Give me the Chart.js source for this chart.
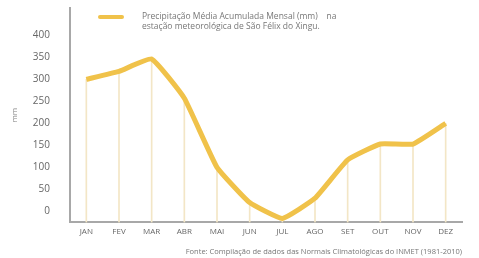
<!DOCTYPE html>
<html>
<head>
<meta charset="utf-8">
<script src="https://cdn.jsdelivr.net/npm/chart.js@4"></script>
<style>
  html, body { margin: 0; padding: 0; background: #fff; }
  #wrap { position: relative; width: 479px; height: 258px; }
  #legenda {
    position: absolute; left: 98px; top: 11px;
    font-family: "Open Sans", sans-serif; font-size: 8.5px; line-height: 10px; color: #777;
    display: flex; align-items: flex-start;
  }
  #legenda .amostra { width: 26px; height: 4px; background: #f0c24a; margin: 4px 18px 0 0; border-radius: 2px; }
</style>
</head>
<body>
<div id="wrap">
  <canvas id="precipChart" width="479" height="258"></canvas>
  <div id="legenda">
    <div class="amostra"></div>
    <div>Precipitação Média Acumulada Mensal (mm)&nbsp;&nbsp;&nbsp; na<br>estação meteorológica de São Félix do Xingu.</div>
  </div>
</div>
<script>
// Dados
const meses = ['JAN', 'FEV', 'MAR', 'ABR', 'MAI', 'JUN', 'JUL', 'AGO', 'SET', 'OUT', 'NOV', 'DEZ'];
const precipitacao = [300, 318, 346, 257, 100, 20, -16, 30, 117, 153, 153, 200];
const ticksY = [0, 50, 100, 150, 200, 250, 300, 350, 400];

const minY = -25;
const maxY = 462;

// Linhas verticais abaixo da curva (barras finas)
const linhasVerticais = precipitacao.map(v => [minY, v]);

const ctx = document.getElementById('precipChart');
new Chart(ctx, {
    data: {
        labels: meses,
        datasets: [{
            type: 'line',
            data: precipitacao,
            borderColor: '#f0c24a',
            borderWidth: 5,
            tension: 0.12,
            pointRadius: 0,
            fill: false,
            order: 1
        }, {
            type: 'bar',
            data: linhasVerticais,
            backgroundColor: '#f3e6c6',
            barThickness: 1,
            order: 2
        }]
    },
    options: {
        responsive: false,
        animation: false,
        layout: { padding: { top: 8, right: 17, left: 6, bottom: 0 } },
        scales: {
            x: {
                grid: { display: false, drawTicks: false },
                border: { color: '#a8a8a8', width: 2 },
                ticks: { color: '#666', font: { family: 'Open Sans', size: 8 }, padding: 5, maxRotation: 0 }
            },
            y: {
                min: minY,
                max: maxY,
                afterBuildTicks: axis => { axis.ticks = ticksY.map(v => ({ value: v })); },
                // o padding dos ticks nao deve empurrar o topo do grafico
                afterFit: axis => { axis.paddingTop = 0; axis.width = 64; },
                grid: { display: false, drawTicks: false },
                border: { color: '#a8a8a8', width: 2 },
                ticks: { color: '#666', font: { family: 'Open Sans', size: 10 }, padding: 20 },
                title: { display: true, text: 'mm', color: '#888', font: { family: 'Open Sans', size: 8 }, padding: { top: 4, bottom: 4 } }
            }
        },
        plugins: {
            legend: { display: false },
            tooltip: { enabled: false },
            subtitle: {
                display: true,
                position: 'bottom',
                align: 'end',
                text: 'Fonte: Compilação de dados das Normais Climatológicas do INMET (1981-2010)',
                color: '#777',
                font: { family: 'Open Sans', size: 7.5 },
                padding: { top: 5, bottom: 2 }
            }
        }
    }
});
</script>
</body>
</html>
